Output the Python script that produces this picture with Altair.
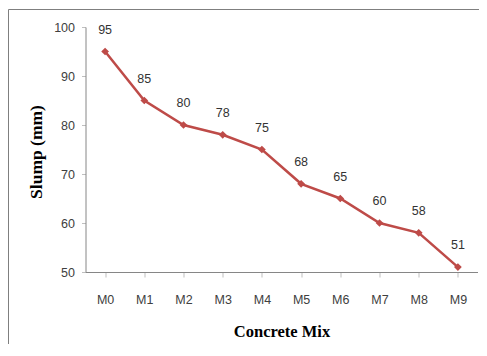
import altair as alt
import pandas as pd

mixes = ["M0", "M1", "M2", "M3", "M4", "M5", "M6", "M7", "M8", "M9"]
slump = [95, 85, 80, 78, 75, 68, 65, 60, 58, 51]
y_ticks = [50, 60, 70, 80, 90, 100]

df = pd.DataFrame({"mix": mixes, "slump": slump})
frame_df = pd.DataFrame({"a": [0]})

RED = "#BE4B48"
W, H = 392, 245

x_enc = alt.X("mix:N", sort=mixes, scale=alt.Scale(paddingInner=0, paddingOuter=0),
              axis=alt.Axis(title="Concrete Mix", labelAngle=0, labelFont="Liberation Sans",
                            labelFontSize=12.5, labelColor="#404040", labelPadding=16,
                            tickSize=5, tickColor="#BFBFBF", domainColor="#868686",
                            bandPosition=0, titleFont="Liberation Serif", titleFontSize=16.5,
                            titleFontWeight="bold", titleColor="#000000",
                            titleY=59, titleBaseline="middle", grid=False))
y_enc = alt.Y("slump:Q", scale=alt.Scale(domain=[50, 100], nice=False, zero=False),
              axis=alt.Axis(title="Slump (mm)", values=y_ticks, labelFont="Liberation Sans",
                            labelFontSize=12.5, labelColor="#404040", labelPadding=7,
                            tickSize=4, tickColor="#BFBFBF", domainColor="#868686",
                            titleFont="Liberation Serif", titleFontSize=17.5,
                            titleFontWeight="bold", titleColor="#000000",
                            titleAngle=-90, titleX=-49.5, titleY=H / 2 + 2,
                            titleBaseline="middle", titleAlign="center", grid=False))

frame_left = alt.Chart(frame_df).mark_rule(stroke="#7F7F7F", strokeWidth=1).encode(
    x=alt.value(-77), y=alt.value(-17.5), y2=alt.value(400)
)
frame_top = alt.Chart(frame_df).mark_rule(stroke="#7F7F7F", strokeWidth=1).encode(
    x=alt.value(-77), x2=alt.value(500), y=alt.value(-17.5)
)

line = alt.Chart(df).mark_line(color=RED, strokeWidth=2.5).encode(x=x_enc, y=y_enc)
points = alt.Chart(df).mark_point(shape="diamond", filled=True, size=60, color=RED, opacity=1).encode(
    x=alt.X("mix:N", sort=mixes), y="slump:Q")
labels = alt.Chart(df).mark_text(dy=-22, font="Liberation Sans", fontSize=12.5, color="#333333").encode(
    x=alt.X("mix:N", sort=mixes), y="slump:Q", text="slump:Q")

chart = alt.layer(frame_left, frame_top, line, points, labels).properties(
    width=W, height=H,
    autosize=alt.AutoSizeParams(type="none"),
    padding={"left": 77.5, "top": 19, "right": 1, "bottom": 72},
).configure_view(stroke=None)

chart.save("out.html", embed_options={"renderer": "svg", "actions": False})
